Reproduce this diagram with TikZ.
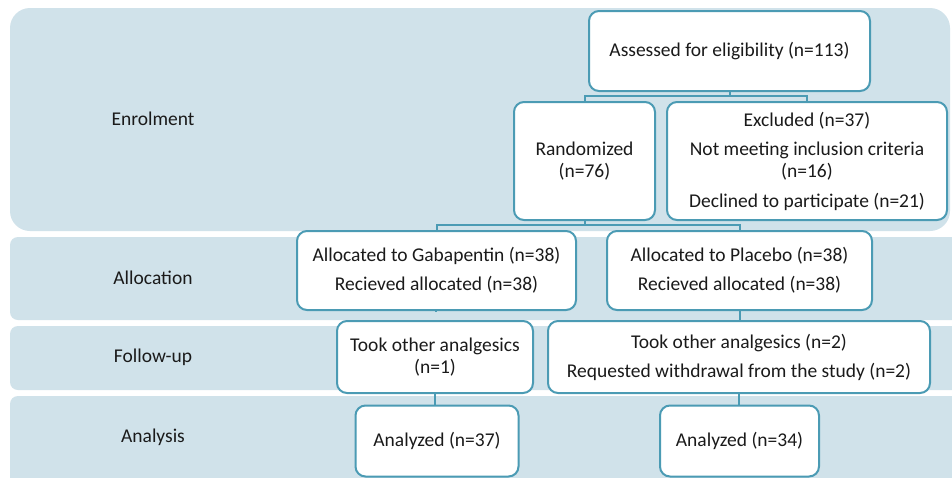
\documentclass[tikz,border=0pt]{standalone}
\usepackage{fontspec}
\setmainfont{Carlito}
\definecolor{bandc}{HTML}{D0E2EA}
\definecolor{edgec}{HTML}{4B9BB4}
\definecolor{txtc}{HTML}{1A1A1A}
\begin{document}
\begin{tikzpicture}[x=1pt,y=-1pt,
  band/.style={fill=bandc, draw=none},
  lbl/.style={font=\fontsize{19.5}{22}\selectfont, text=txtc, inner sep=0pt},
  box/.style={draw=edgec, line width=2pt, fill=white, rounded corners=10pt,
    align=center, inner sep=0pt, text=txtc, font=\fontsize{19.5}{22}\selectfont},
  conn/.style={draw=edgec, line width=2pt}]
\useasboundingbox (0,0) rectangle (952,477);
\fill[white] (0,0) rectangle (952,477);
\begin{scope}
\clip (0,0) rectangle (952,477);
% bands
\fill[band, rounded corners=20pt] (10,8) rectangle (950,231);
\fill[band, rounded corners=8pt] (10,237) rectangle (975,320);
\fill[band, rounded corners=8pt] (10,326) rectangle (975,390);
\fill[band, rounded corners=8pt] (10,396) rectangle (975,500);
\node[lbl] (lenrol) at (153,119) {Enrolment};
\node[lbl] (lalloc) at (153,278) {Allocation};
\node[lbl] (lfollow) at (153,357) {Follow-up};
\node[lbl] (lanal) at (153,437) {Analysis};
% boxes
\node[box, minimum width=281pt, minimum height=80pt] (assess) at (729.5,51) {Assessed for eligibility (n=113)};
\node[box, minimum width=141pt, minimum height=118pt] (rand) at (584.5,161) {Randomized\\(n=76)};
\node[box, minimum width=280pt, minimum height=118pt] (excl) at (807,161) {Excluded (n=37)\\[7pt]Not meeting inclusion criteria\\(n=16)\\[8pt]Declined to participate (n=21)};
\node[box, minimum width=279pt, minimum height=79pt] (galloc) at (436.5,270.5) {Allocated to Gabapentin (n=38)\\[7pt]Recieved allocated (n=38)};
\node[box, minimum width=265pt, minimum height=79pt] (palloc) at (739.5,270.5) {Allocated to Placebo (n=38)\\[7pt]Recieved allocated (n=38)};
\node[box, minimum width=196pt, minimum height=72pt] (gfollow) at (435,357) {Took other analgesics\\(n=1)};
\node[box, minimum width=382pt, minimum height=72pt] (pfollow) at (739,357) {Took other analgesics (n=2)\\[7pt]Requested withdrawal from the study (n=2)};
\node[box, minimum width=163pt, minimum height=71pt] (ganal) at (437,441) {Analyzed (n=37)};
\node[box, minimum width=159pt, minimum height=71pt] (panal) at (739.5,441) {Analyzed (n=34)};
% connectors
\coordinate (j1) at (0,96);
\coordinate (j2) at (0,225);
\draw[conn] (assess.south) -- (assess.south |- j1) -| (rand.north);
\draw[conn] (assess.south |- j1) -| (excl.north);
\draw[conn] (rand.south) -- (rand.south |- j2) -| (galloc.north);
\draw[conn] (rand.south |- j2) -| (palloc.north);
\draw[conn] (galloc.south) -- (galloc.south -| gfollow.north);
\draw[conn] (palloc.south) -- (pfollow.north -| palloc.south);
\draw[conn] (gfollow.south) -- (gfollow.south |- ganal.north);
\draw[conn] (pfollow.south) -- (pfollow.south |- panal.north);
\end{scope}
\end{tikzpicture}
\end{document}
